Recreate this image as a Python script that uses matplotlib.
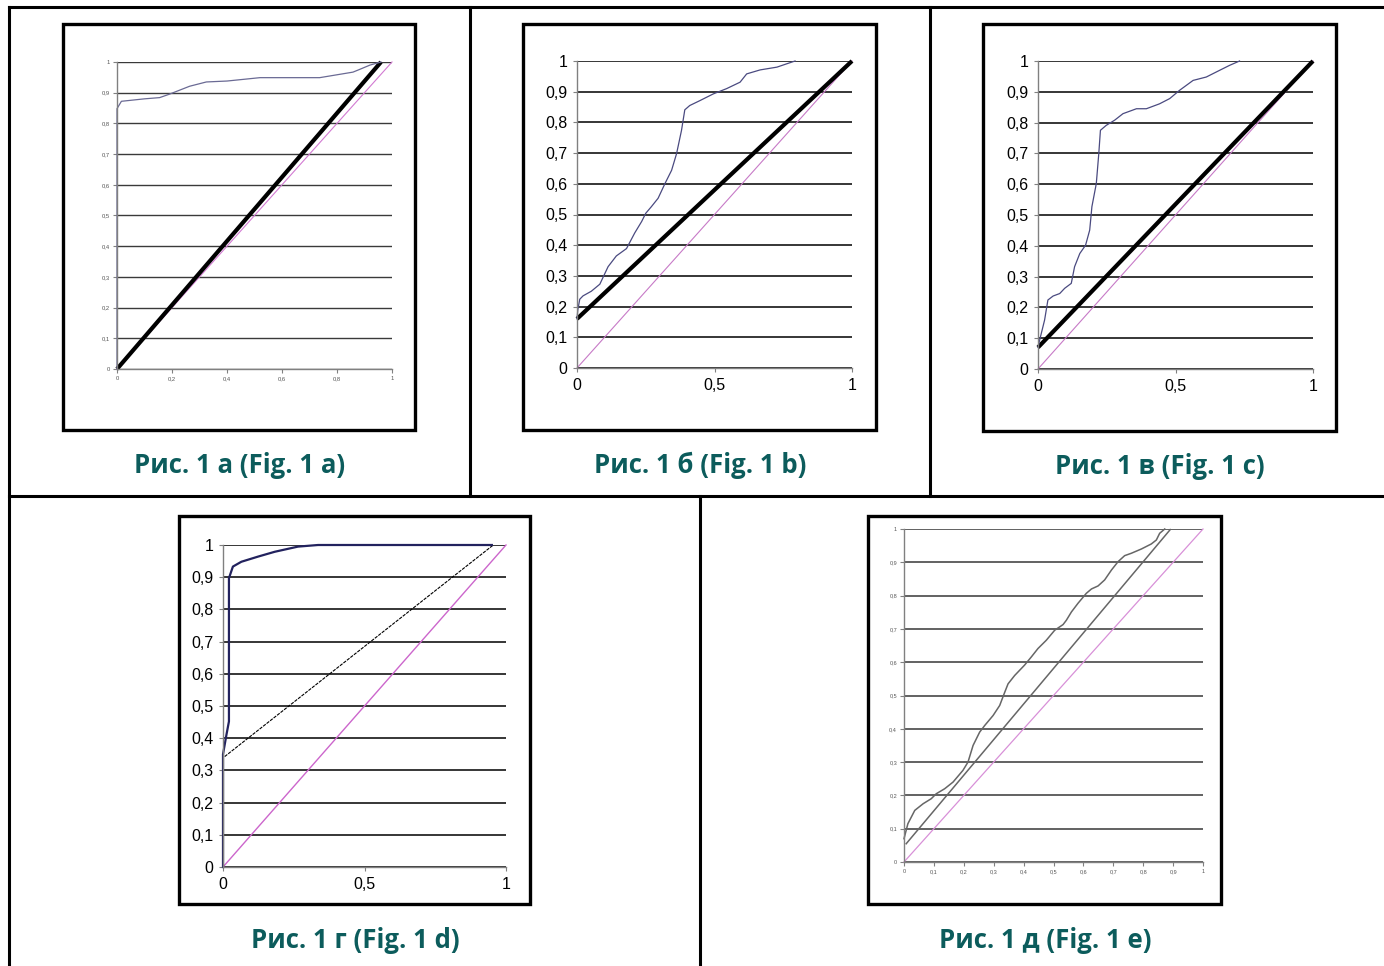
import matplotlib
matplotlib.use("Agg")
import matplotlib.pyplot as plt
from matplotlib.patches import Rectangle
from matplotlib.lines import Line2D

W, H = 1384, 966

# ---- data (axis units 0..1) ----
# Fig. 1 a
a_curve_x = [0, 0, 0.016, 0.10, 0.155, 0.19, 0.264, 0.325, 0.40, 0.52, 0.737, 0.858, 0.88, 0.92, 0.96]
a_curve_y = [0, 0.848, 0.872, 0.880, 0.884, 0.895, 0.921, 0.935, 0.938, 0.949, 0.949, 0.967, 0.975, 0.99, 1.0]
a_line_x = [0, 0.96]
a_line_y = [0, 1.0]

# Fig. 1 b
b_curve_x = [0, 0.003, 0.01, 0.022, 0.052, 0.083, 0.113, 0.143, 0.18, 0.21, 0.235, 0.25, 0.27, 0.295,
             0.32, 0.344, 0.362, 0.38, 0.392, 0.41, 0.447, 0.496, 0.544, 0.593, 0.617, 0.666, 0.727,
             0.763, 0.793]
b_curve_y = [0.16, 0.19, 0.224, 0.235, 0.25, 0.273, 0.33, 0.365, 0.389, 0.44, 0.477, 0.504, 0.525,
             0.553, 0.601, 0.644, 0.698, 0.774, 0.841, 0.855, 0.871, 0.893, 0.91, 0.931, 0.958, 0.971,
             0.98, 0.991, 1.0]
b_line_x = [0, 1]
b_line_y = [0.16, 1.0]

# Fig. 1 c
c_curve_x = [0, 0.006, 0.024, 0.036, 0.055, 0.079, 0.097, 0.121, 0.133, 0.152, 0.173, 0.188, 0.196,
             0.212, 0.221, 0.227, 0.248, 0.279, 0.309, 0.358, 0.394, 0.442, 0.479, 0.515, 0.564, 0.612,
             0.661, 0.697, 0.733]
c_curve_y = [0.07, 0.094, 0.159, 0.224, 0.237, 0.245, 0.262, 0.278, 0.332, 0.375, 0.402, 0.451, 0.527,
             0.602, 0.699, 0.775, 0.791, 0.808, 0.829, 0.845, 0.845, 0.861, 0.878, 0.905, 0.937, 0.948,
             0.97, 0.986, 1.0]
c_line_x = [0, 1]
c_line_y = [0.07, 1.0]

# Fig. 1 d
d_curve_x = [0, 0, 0.006, 0.012, 0.021, 0.021, 0.035, 0.065, 0.124, 0.183, 0.265, 0.336, 0.95]
d_curve_y = [0, 0.35, 0.38, 0.41, 0.452, 0.897, 0.933, 0.948, 0.964, 0.979, 0.995, 1.0, 1.0]
d_line_x = [0.006, 0.955]
d_line_y = [0.343, 1.0]

# Fig. 1 e
e_curve_x = [0, 0.013, 0.036, 0.064, 0.091, 0.108, 0.136, 0.164, 0.197, 0.214, 0.231, 0.253, 0.27,
             0.298, 0.32, 0.337, 0.348, 0.37, 0.403, 0.426, 0.448, 0.476, 0.504, 0.532, 0.543, 0.56,
             0.582, 0.61, 0.627, 0.649, 0.671, 0.694, 0.716, 0.738, 0.76, 0.794, 0.827, 0.844, 0.855,
             0.872]
e_curve_y = [0.07, 0.115, 0.155, 0.175, 0.19, 0.205, 0.22, 0.24, 0.275, 0.3, 0.35, 0.39, 0.41, 0.44,
             0.47, 0.51, 0.535, 0.56, 0.591, 0.616, 0.641, 0.666, 0.696, 0.713, 0.726, 0.751, 0.777,
             0.807, 0.82, 0.829, 0.847, 0.877, 0.902, 0.92, 0.927, 0.94, 0.955, 0.967, 0.987, 1.0]
e_line_x = [0.0056, 0.892]
e_line_y = [0.053, 1.0]

diag_x = [0, 1]
diag_y = [0, 1]

y_ticks = [0, 0.1, 0.2, 0.3, 0.4, 0.5, 0.6, 0.7, 0.8, 0.9, 1]
y_labels = ["0", "0,1", "0,2", "0,3", "0,4", "0,5", "0,6", "0,7", "0,8", "0,9", "1"]
x_ticks_a = [0, 0.2, 0.4, 0.6, 0.8, 1]
x_labels_a = ["0", "0,2", "0,4", "0,6", "0,8", "1"]
x_ticks_bcd = [0, 0.5, 1]
x_labels_bcd = ["0", "0,5", "1"]
x_ticks_e = y_ticks
x_labels_e = y_labels

captions = ["Рис. 1 а (Fig. 1 a)", "Рис. 1 б (Fig. 1 b)", "Рис. 1 в (Fig. 1 c)",
            "Рис. 1 г (Fig. 1 d)", "Рис. 1 д (Fig. 1 e)"]


def box(x0, y0, x1, y1):
    # pixel box (top-left origin) -> figure fraction [l, b, w, h]
    return [x0 / W, 1 - y1 / H, (x1 - x0) / W, (y1 - y0) / H]


fig = plt.figure(figsize=(W / 100, H / 100), dpi=100)
fig.patch.set_facecolor("white")

# table rules
def rule(x0, y0, x1, y1, lw=2.2):
    fig.add_artist(Line2D([x0 / W, x1 / W], [1 - y0 / H, 1 - y1 / H],
                          transform=fig.transFigure, color="black", lw=lw))

rule(9, 7, W, 7)
rule(9, 7, 9, H)
rule(470, 7, 470, 496)
rule(930, 7, 930, 496)
rule(9, 496, W, 496)
rule(700, 496, 700, H)

# black frames around each chart
frames = [(63, 24, 415, 430), (523, 24, 876, 430), (983, 24, 1336, 431),
          (179, 516, 530, 904), (868, 516, 1221, 904)]
for f in frames:
    fig.add_artist(Rectangle((f[0] / W, 1 - f[3] / H), (f[2] - f[0]) / W, (f[3] - f[1]) / H,
                             transform=fig.transFigure, fill=False, ec="black", lw=2.4))

panels = [
    dict(pos=(117, 62, 392, 369), cx=a_curve_x, cy=a_curve_y, lx=a_line_x, ly=a_line_y,
         xt=x_ticks_a, xl=x_labels_a, fs=4.2, tc="#555555", grid="#3a3a3a", gw=1.0, pad=2,
         cc="#6a6a94", cw=0.9, lc="black", lw=3.0, ls="-", pc="#d27ad2", pw=0.8),
    dict(pos=(577, 61, 852, 368), cx=b_curve_x, cy=b_curve_y, lx=b_line_x, ly=b_line_y,
         xt=x_ticks_bcd, xl=x_labels_bcd, fs=11.5, tc="black", grid="black", gw=1.1, pad=4,
         cc="#4a4a80", cw=0.9, lc="black", lw=3.0, ls="-", pc="#c77ac7", pw=0.8),
    dict(pos=(1038, 61, 1313, 369), cx=c_curve_x, cy=c_curve_y, lx=c_line_x, ly=c_line_y,
         xt=x_ticks_bcd, xl=x_labels_bcd, fs=11.5, tc="black", grid="black", gw=1.1, pad=4,
         cc="#4a4a80", cw=0.9, lc="black", lw=3.0, ls="-", pc="#c77ac7", pw=0.8),
    dict(pos=(223, 545, 506, 867), cx=d_curve_x, cy=d_curve_y, lx=d_line_x, ly=d_line_y,
         xt=x_ticks_bcd, xl=x_labels_bcd, fs=11.5, tc="black", grid="black", gw=1.1, pad=4,
         cc="#22225e", cw=1.6, lc="black", lw=0.8, ls=(0, (3, 1)), pc="#cc66cc", pw=1.0),
    dict(pos=(904, 529, 1203, 862), cx=e_curve_x, cy=e_curve_y, lx=e_line_x, ly=e_line_y,
         xt=x_ticks_e, xl=x_labels_e, fs=4.0, tc="#555555", grid="#555555", gw=1.3, pad=2,
         cc="#666666", cw=1.1, lc="#666666", lw=1.1, ls="-", pc="#d890d8", pw=0.9),
]

for p in panels:
    ax = fig.add_axes(box(*p["pos"]))
    ax.set_xlim(0, 1)
    ax.set_ylim(0, 1)
    ax.set_axisbelow(True)
    ax.yaxis.grid(True, color=p["grid"], lw=p["gw"])
    ax.xaxis.grid(False)
    for s in ["top", "right"]:
        ax.spines[s].set_visible(False)
    for s in ["left", "bottom"]:
        ax.spines[s].set_color("#808080")
        ax.spines[s].set_linewidth(1.0)
    ax.set_xticks(p["xt"])
    ax.set_xticklabels(p["xl"])
    ax.set_yticks(y_ticks)
    ax.set_yticklabels(y_labels)
    ax.tick_params(direction="out", length=3, width=0.8, color="#808080",
                   labelsize=p["fs"], labelcolor=p["tc"], pad=p["pad"])
    for lab in ax.get_xticklabels() + ax.get_yticklabels():
        lab.set_family("Liberation Sans")
    ax.plot(diag_x, diag_y, color=p["pc"], lw=p["pw"], clip_on=False)
    ax.plot(p["lx"], p["ly"], color=p["lc"], lw=p["lw"], ls=p["ls"],
            solid_capstyle="butt", clip_on=False)
    ax.plot(p["cx"], p["cy"], color=p["cc"], lw=p["cw"], clip_on=False)

cap_pos = [(240, 465), (700, 465), (1160, 467), (355, 940), (1045, 940)]
for (cx, cy), t in zip(cap_pos, captions):
    fig.text(cx / W, 1 - cy / H, t, ha="center", va="center", fontsize=18.5,
             fontweight="bold", color="#0c5c5c", family=["Open Sans", "DejaVu Sans"])

fig.savefig("out.png", dpi=100, facecolor="white")
